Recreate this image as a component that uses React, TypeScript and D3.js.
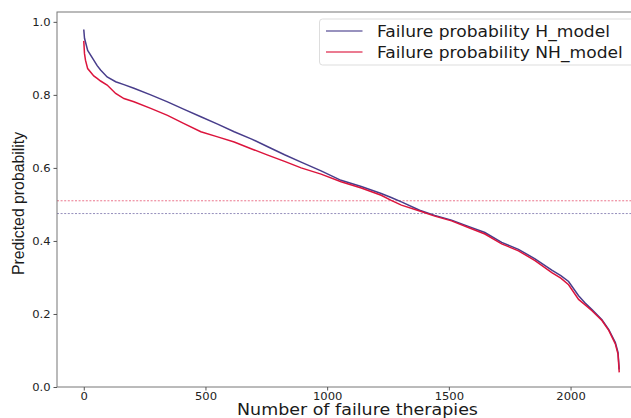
import { scaleLinear, line, select, axisLeft, axisBottom } from 'd3';
import { useRef, useEffect } from 'react';

// sorted predictions (index of therapy -> probability)
const therapyIndex = [0, 3, 7, 16, 41, 55, 69, 96, 131, 165, 206, 275, 344, 410, 481, 550, 618, 690, 756, 825, 893, 975, 1057, 1140, 1222, 1263, 1305, 1380, 1442, 1511, 1580, 1648, 1717, 1786, 1854, 1923, 1960, 1992, 2033, 2060, 2088, 2129, 2157, 2184, 2195, 2200];
const probH = [0.979, 0.955, 0.945, 0.922, 0.895, 0.88, 0.868, 0.849, 0.836, 0.828, 0.818, 0.8, 0.781, 0.761, 0.74, 0.72, 0.699, 0.679, 0.658, 0.636, 0.616, 0.592, 0.566, 0.549, 0.53, 0.519, 0.507, 0.484, 0.47, 0.457, 0.44, 0.423, 0.396, 0.377, 0.351, 0.32, 0.305, 0.289, 0.25, 0.23, 0.212, 0.184, 0.157, 0.122, 0.095, 0.048];
const probNH = [0.948, 0.913, 0.895, 0.872, 0.852, 0.845, 0.838, 0.827, 0.804, 0.79, 0.781, 0.763, 0.744, 0.722, 0.699, 0.685, 0.671, 0.652, 0.635, 0.618, 0.6, 0.583, 0.562, 0.545, 0.525, 0.511, 0.498, 0.482, 0.468, 0.455, 0.437, 0.419, 0.392, 0.373, 0.346, 0.313, 0.298, 0.28, 0.24, 0.225, 0.209, 0.182, 0.155, 0.118, 0.09, 0.04];
const thresholds = [0.51, 0.475];
const seriesNames = ['Failure probability H_model', 'Failure probability NH_model'];
const xTicks = [0, 500, 1000, 1500, 2000];
const yTicks = [0.0, 0.2, 0.4, 0.6, 0.8, 1.0];

const colH = '#483d8b';
const colNH = '#dc143c';
const font = 'DejaVu Sans, sans-serif';
const stretch = 1.07;

export default function App() {
    const margin = { top: 12, left: 57 };
    const plotW = 589;
    const plotH = 375;

    const x = scaleLinear().domain([-110, 2310]).range([0, plotW]);
    const y = scaleLinear().domain([0, 1.027]).range([plotH, 0]);

    const pathOf = (vals: number[]) =>
        line<number>()
            .x((_, i) => x(therapyIndex[i]))
            .y((d) => y(d))(vals) || '';

    const xRef = useRef<SVGGElement>(null);
    const yRef = useRef<SVGGElement>(null);

    useEffect(() => {
        if (xRef.current) {
            const g = select(xRef.current);
            g.call(axisBottom(x).tickValues(xTicks).tickSize(3.5).tickPadding(2).tickFormat((d) => String(d)));
            g.select('.domain').remove();
            g.selectAll('line').attr('stroke', '#555');
            g.selectAll('text')
                .attr('font-family', font)
                .attr('font-size', 10.8)
                .attr('fill', '#222')
                .attr('transform', `scale(${stretch},1)`);
        }
        if (yRef.current) {
            const g = select(yRef.current);
            g.call(axisLeft(y).tickValues(yTicks).tickSize(3.5).tickPadding(3).tickFormat((d: any) => d.toFixed(1)));
            g.select('.domain').remove();
            g.selectAll('line').attr('stroke', '#555');
            g.selectAll('text')
                .attr('font-family', font)
                .attr('font-size', 10.8)
                .attr('fill', '#222')
                .attr('x', -6.5 / stretch)
                .attr('transform', `scale(${stretch},1)`);
        }
    }, []);

    return (
        <svg width={631} height={418} style={{ position: 'absolute', left: 0, top: 0, background: '#fff' }}>
            <g transform={`translate(${margin.left},${margin.top})`}>
                {thresholds.map((t, i) => (
                    <line
                        key={`thr-${i}`}
                        x1={0}
                        x2={plotW}
                        y1={y(t)}
                        y2={y(t)}
                        stroke={i === 0 ? colNH : colH}
                        strokeOpacity={0.65}
                        strokeWidth={0.9}
                        strokeDasharray='2,1.6'
                    />
                ))}
                <path d={pathOf(probH)} fill='none' stroke={colH} strokeWidth={1.5} />
                <path d={pathOf(probNH)} fill='none' stroke={colNH} strokeWidth={1.5} />

                {/* spines */}
                <rect x={0} y={0} width={plotW} height={plotH} fill='none' stroke='#777' strokeWidth={1} />

                <g ref={xRef} transform={`translate(0,${plotH})`} />
                <g ref={yRef} />

                {/* legend */}
                <rect x={262.5} y={7} width={330} height={46} rx={3} fill='#fff' fillOpacity={0.85} stroke='#ddd' strokeWidth={1} />
                {seriesNames.map((name, i) => (
                    <g key={name} transform={`translate(269,${19 + i * 21})`}>
                        <line x1={0} x2={36.5} y1={0} y2={0} stroke={i === 0 ? colH : colNH} strokeOpacity={0.75} strokeWidth={1.5} />
                        <text
                            transform={`translate(51,6) scale(${stretch},1)`}
                            fontFamily={font}
                            fontSize={16}
                            fill='#1a1a1a'
                        >
                            {name}
                        </text>
                    </g>
                ))}

                <text
                    transform={`translate(${plotW / 2 + 6},402.5) scale(${stretch * 1.02},1)`}
                    textAnchor='middle'
                    fontFamily={font}
                    fontSize={16}
                    fill='#1a1a1a'
                >
                    Number of failure therapies
                </text>
                <text
                    transform={`translate(-33,${191.5}) rotate(-90)`}
                    textAnchor='middle'
                    fontFamily='Liberation Sans, Arial, sans-serif'
                    fontSize={15.8}
                    fill='#1a1a1a'
                >
                    Predicted probability
                </text>
            </g>
        </svg>
    );
}
